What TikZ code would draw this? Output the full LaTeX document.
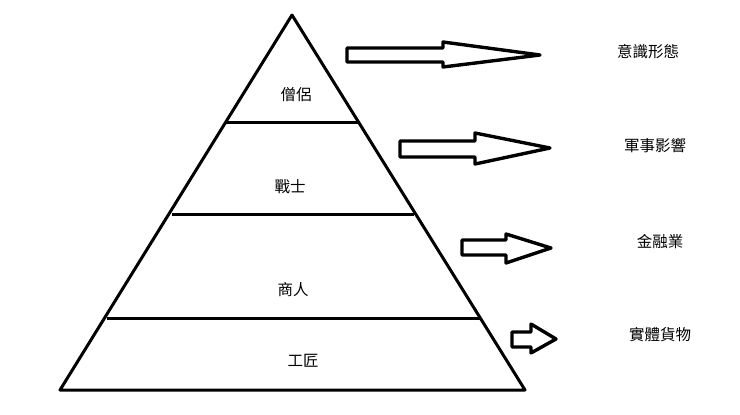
\documentclass[tikz,border=0pt]{standalone}
\usepackage{fontspec}
\newfontfamily\cjk{Noto Sans CJK TC}
\begin{document}
\begin{tikzpicture}[x=1pt,y=-1pt,
  lbl/.style={font=\cjk\fontsize{15.5}{17}\selectfont,inner sep=0pt},
  edge/.style={line width=3pt,line join=round},
  blk/.style={line width=3.4pt,line join=round,fill=white}]
\useasboundingbox (0,0) rectangle (740,415);
\coordinate (A) at (292,15);
\coordinate (L) at (60,390);
\coordinate (R) at (525,390);
\draw[edge] (A) -- (L) -- (R) -- cycle;
\coordinate (l1) at (226,122); \coordinate (r1) at (358,122);
\coordinate (l2) at (172,214); \coordinate (r2) at (414,214);
\coordinate (l3) at (107,318); \coordinate (r3) at (480,318);
\draw[edge] (l1) -- (r1);
\draw[edge] (l2) -- (r2);
\draw[edge] (l3) -- (r3);
\node[lbl] (t1) at (296,95) {僧侶};
\node[lbl] (t2) at (290,187) {戰士};
\node[lbl] (t3) at (293,290) {商人};
\node[lbl] (t4) at (303,361) {工匠};
% block arrows
\draw[blk] (347,48) -- (443,48) -- (443,42) -- (540,55) -- (443,67) -- (443,62) -- (347,62) -- cycle;
\draw[blk] (400,141) -- (475,141) -- (475,133) -- (550,148) -- (475,164) -- (475,157) -- (400,157) -- cycle;
\draw[blk] (462,240) -- (506,240) -- (506,234) -- (551,248) -- (506,263) -- (506,255) -- (462,255) -- cycle;
\draw[blk] (512,332) -- (531,332) -- (531,324) -- (556,339) -- (531,353) -- (531,347) -- (512,347) -- cycle;
\node[lbl] (s1) at (648,52) {意識形態};
\node[lbl] (s2) at (655,146) {軍事影響};
\node[lbl] (s3) at (660,242) {金融業};
\node[lbl] (s4) at (660,335) {實體貨物};
\end{tikzpicture}
\end{document}
